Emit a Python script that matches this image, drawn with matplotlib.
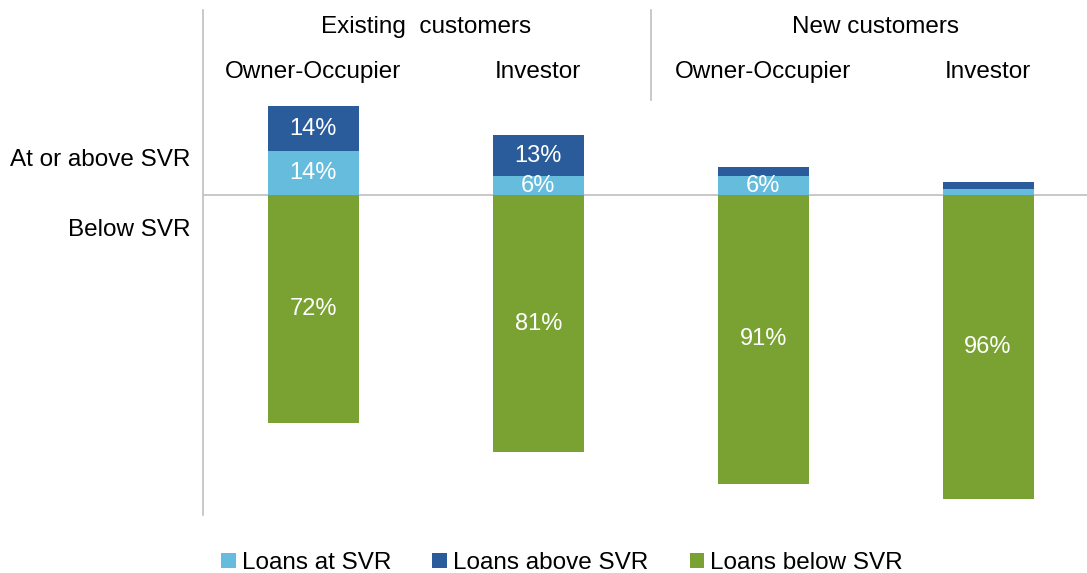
import matplotlib.pyplot as plt
import numpy as np

plt.rcParams['font.family'] = ['Liberation Sans', 'DejaVu Sans']

groups = ['Existing  customers', 'New customers']
segments = ['Owner-Occupier', 'Investor', 'Owner-Occupier', 'Investor']
at_svr = [14, 6, 6, 2]
above_svr = [14, 13, 3, 2]
below_svr = [72, 81, 91, 96]
label_at = ['14%', '6%', '6%', '']
label_above = ['14%', '13%', '', '']
label_below = ['72%', '81%', '91%', '96%']

c_at = '#65BCDD'
c_above = '#2A5B9A'
c_below = '#7AA232'
grey = '#BFBFBF'
fs = 17.5

fig = plt.figure(figsize=(10.87, 5.73), dpi=100)
ax = fig.add_axes([203/1087, 58/573, 884/1087, 505/573])

x = np.arange(len(segments))
w = 0.405
b1 = ax.bar(x, at_svr, w, color=c_at, label='Loans at SVR')
b2 = ax.bar(x, above_svr, w, bottom=at_svr, color=c_above, label='Loans above SVR')
b3 = ax.bar(x, [-v for v in below_svr], w, color=c_below, label='Loans below SVR')

# white value labels inside the segments
for i in range(len(x)):
    if label_at[i]:
        ax.text(x[i], at_svr[i] / 2, label_at[i], ha='center', va='center',
                color='white', fontsize=17)
    if label_above[i]:
        ax.text(x[i], at_svr[i] + above_svr[i] / 2, label_above[i], ha='center',
                va='center', color='white', fontsize=17)
    ax.text(x[i], -below_svr[i] / 2, label_below[i], ha='center', va='center',
            color='white', fontsize=17)

ax.set_xlim(-0.491, 3.44)
ax.set_ylim(-100.9, 58.4)
ax.axhline(0, color=grey, lw=1.2, zorder=0)
ax.plot([1.5, 1.5], [30.0, 58.4], color=grey, lw=1.2, clip_on=False)

# group headers
for k, g in enumerate(groups):
    ax.text(0.5 + 2 * k, 53.0, g, ha='center', va='center', fontsize=fs)
for i, s in enumerate(segments):
    ax.text(x[i], 38.8, s, ha='center', va='center', fontsize=fs)

ax.text(-0.547, 11.0, 'At or above SVR', ha='right', va='center',
        fontsize=fs, clip_on=False)
ax.text(-0.547, -10.9, 'Below SVR', ha='right', va='center',
        fontsize=fs, clip_on=False)

for sp in ['top', 'right', 'bottom']:
    ax.spines[sp].set_visible(False)
ax.spines['left'].set_color(grey)
ax.spines['left'].set_linewidth(1.2)
ax.set_xticks([])
ax.set_yticks([])

fig.legend(handles=[b1, b2, b3], loc='center', bbox_to_anchor=(0.517, 10/573),
           ncol=3, frameon=False, fontsize=fs, handlelength=0.6, handleheight=0.6,
           handletextpad=0.25, columnspacing=1.7)

fig.savefig('out.png', dpi=100)
